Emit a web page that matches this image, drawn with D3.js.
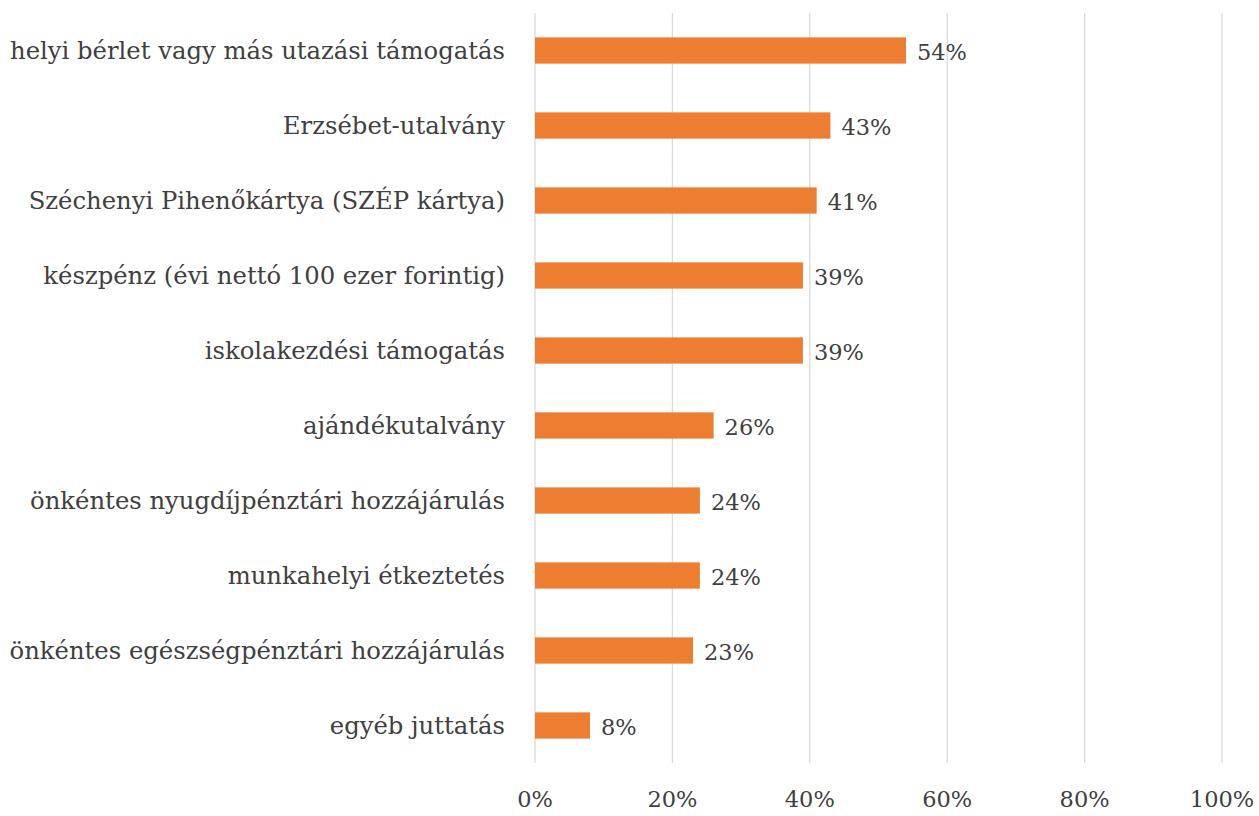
<!DOCTYPE html>
<html>
<head>
<meta charset="utf-8">
<script src="https://cdn.jsdelivr.net/npm/d3@7"></script>
<style>
  body { margin: 0; background: #fff; }
</style>
</head>
<body>
<div id="chart"></div>
<script>
//// data
var categories = [
  "helyi bérlet vagy más utazási támogatás",
  "Erzsébet-utalvány",
  "Széchenyi Pihenőkártya (SZÉP kártya)",
  "készpénz (évi nettó 100 ezer forintig)",
  "iskolakezdési támogatás",
  "ajándékutalvány",
  "önkéntes nyugdíjpénztári hozzájárulás",
  "munkahelyi étkeztetés",
  "önkéntes egészségpénztári hozzájárulás",
  "egyéb juttatás"
];
var values = [54, 43, 41, 39, 39, 26, 24, 24, 23, 8];
var tickValues = [0, 20, 40, 60, 80, 100];

//// chart
var width = 1259, height = 816;
var margin = {top: 13, right: 37, bottom: 53, left: 535};
var font = "'DejaVu Serif', serif";

var svg = d3.select("#chart")
  .append("svg")
    .attr("width", width)
    .attr("height", height)
    .style("font-family", font);

var xScale = d3.scaleLinear()
  .domain([0, 100])
  .range([margin.left, width - margin.right]);

var yScale = d3.scaleBand()
  .domain(categories)
  .range([margin.top, height - margin.bottom])
  .padding(0);

var barH = yScale.bandwidth() * 0.35;

//// gridlines
svg.append("g")
  .selectAll("line")
  .data(tickValues)
  .enter()
  .append("line")
    .attr("x1", d => xScale(d))
    .attr("x2", d => xScale(d))
    .attr("y1", margin.top)
    .attr("y2", height - margin.bottom)
    .attr("stroke", "#d9d9d9")
    .attr("stroke-width", 1.3);

//// x axis labels
svg.append("g")
  .selectAll("text")
  .data(tickValues)
  .enter()
  .append("text")
    .attr("x", d => xScale(d))
    .attr("y", height - 9)
    .attr("text-anchor", "middle")
    .attr("font-size", 22.5)
    .attr("fill", "#404040")
    .text(d => d + "%");

//// bars
svg.append("g")
  .selectAll("rect")
  .data(values)
  .enter()
  .append("rect")
    .attr("x", xScale(0))
    .attr("y", (d, i) => yScale(categories[i]) + yScale.bandwidth() / 2 - barH / 2)
    .attr("width", d => xScale(d) - xScale(0))
    .attr("height", barH)
    .attr("fill", "#ed7d31");

//// value labels
svg.append("g")
  .selectAll("text")
  .data(values)
  .enter()
  .append("text")
    .attr("x", d => xScale(d) + 11)
    .attr("y", (d, i) => yScale(categories[i]) + yScale.bandwidth() / 2)
    .attr("dy", "0.4em")
    .attr("font-size", 22.5)
    .attr("fill", "#404040")
    .text(d => d + "%");

//// category labels
svg.append("g")
  .selectAll("text")
  .data(categories)
  .enter()
  .append("text")
    .attr("x", xScale(0) - 30)
    .attr("y", d => yScale(d) + yScale.bandwidth() / 2)
    .attr("dy", "0.35em")
    .attr("text-anchor", "end")
    .attr("font-size", 24.3)
    .attr("fill", "#404040")
    .text(d => d);
</script>
</body>
</html>
